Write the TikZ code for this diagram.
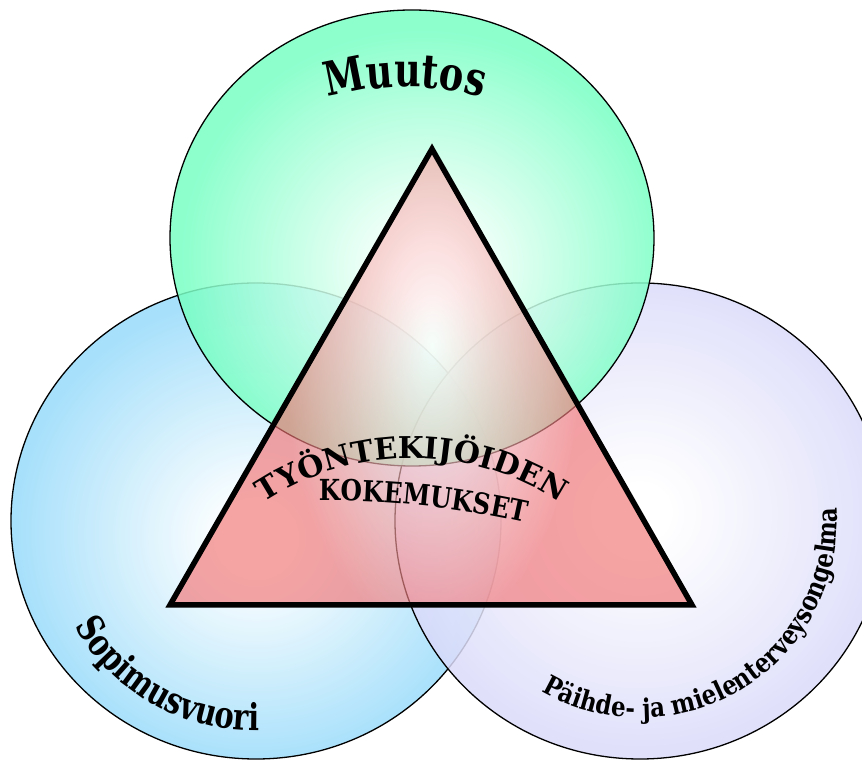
\documentclass[tikz,border=0pt]{standalone}
\usepackage{fontspec}
\usetikzlibrary{decorations.text}
\newfontfamily\serifb{DejaVu Serif}
\newfontfamily\serifn[FakeStretch=0.85]{DejaVu Serif}
\newfontfamily\serift[FakeStretch=0.78]{DejaVu Serif}
\definecolor{grnC}{RGB}{120,255,196}
\definecolor{bluC}{RGB}{150,218,250}
\definecolor{lavC}{RGB}{218,218,250}
\definecolor{pinkC}{RGB}{242,115,115}
\pgfdeclareradialshading{grnsh}{\pgfpoint{2bp}{-4bp}}{color(0bp)=(white); color(3bp)=(white); color(25bp)=(grnC); color(50bp)=(grnC)}
\pgfdeclareradialshading{blush}{\pgfpoint{0bp}{-2bp}}{color(0bp)=(white); color(3bp)=(white); color(25bp)=(bluC); color(50bp)=(bluC)}
\pgfdeclareradialshading{lavsh}{\pgfpoint{0bp}{1bp}}{color(0bp)=(white); color(3bp)=(white); color(25bp)=(lavC); color(50bp)=(lavC)}
\tikzset{
  rim/.style={draw=black, line width=1.3pt},
  vennfill/.style={fill opacity=0.85},
  tririm/.style={draw=black, line width=5.5pt, line join=miter},
  arctext/.style={decorate, decoration={text along path, text align=center, text={#1}}}
}
\begin{document}
\begin{tikzpicture}[x=1pt,y=1pt]
\useasboundingbox (0,0) rectangle (862,760);
% circles
\coordinate (cl) at (256,239);
\coordinate (cr) at (640,239);
\coordinate (ct) at (412,522);
\shade[shading=blush, vennfill] (cl) ellipse [x radius=245, y radius=238];
\draw[rim] (cl) ellipse [x radius=245, y radius=238];
\shade[shading=lavsh, vennfill] (cr) ellipse [x radius=245, y radius=238];
\draw[rim] (cr) ellipse [x radius=245, y radius=238];
\shade[shading=grnsh, vennfill] (ct) ellipse [x radius=242, y radius=228];
\draw[rim] (ct) ellipse [x radius=242, y radius=228];
% triangle
\coordinate (apex) at (432,611);
\coordinate (bl) at (170,155);
\coordinate (br) at (692,155);
\begin{scope}[transparency group, opacity=0.65]
  \clip (apex) -- (bl) -- (br) -- cycle;
  \fill[pinkC] (apex) -- (bl) -- (br) -- cycle;
  \shade[inner color=white, outer color=pinkC] (432,415) ellipse [x radius=150, y radius=290];
\end{scope}
\draw[tririm] (apex) -- (bl) -- (br) -- cycle;
% texts
\path[arctext={|\serift\bfseries\fontsize{47}{47}\selectfont|Muutos}]
  (405,383) ++(130:290) arc[start angle=130, end angle=50, radius=290];
\path[arctext={|\serifb\bfseries\fontsize{30}{30}\selectfont|TYÖNTEKIJÖIDEN}]
  (412,33) ++(140:269) arc[start angle=140, end angle=40, radius=269];
\path[arctext={|\serifn\bfseries\fontsize{29}{29}\selectfont|KOKEMUKSET}]
  (330,-630) ++(100:889) arc[start angle=100, end angle=68, radius=889];
\path[arctext={|\serift\bfseries\fontsize{37}{37}\selectfont|Sopimusvuori}]
  (cl) ++(195:210) arc[start angle=195, end angle=286, radius=210];
\path[arctext={|\serifn\bfseries\fontsize{27}{27}\selectfont|Päihde- ja mielenterveysongelma}]
  (cr) ++(227:197) arc[start angle=227, end angle=377, radius=197];
\end{tikzpicture}
\end{document}
